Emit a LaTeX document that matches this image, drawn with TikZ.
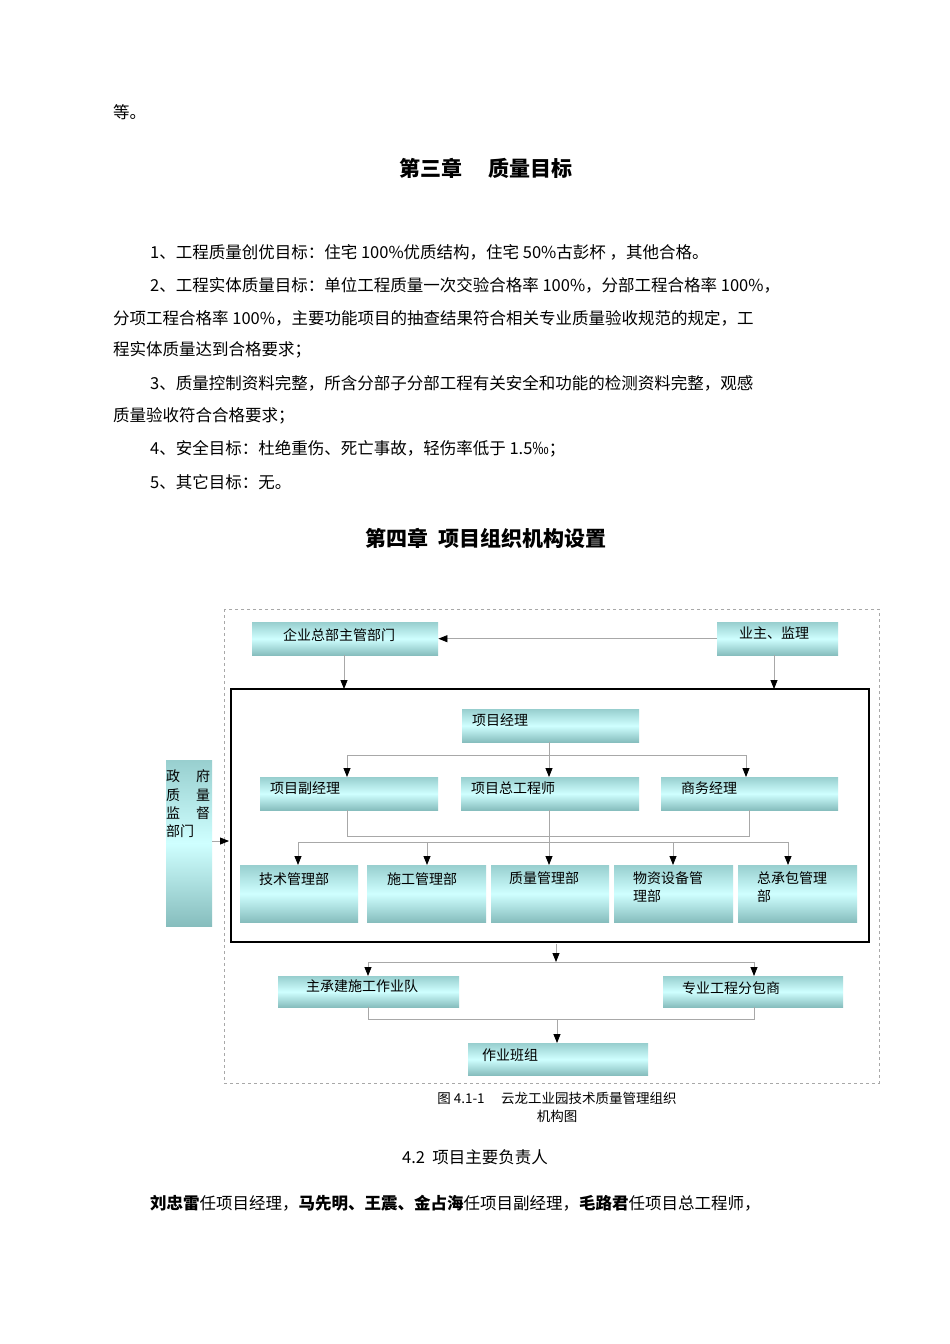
\documentclass[tikz,border=0pt]{standalone}
\usepackage{fontspec}
\setmainfont{Noto Sans CJK SC}
\usetikzlibrary{arrows.meta,calc}
\definecolor{tA}{HTML}{98CFCF}
\definecolor{tB}{HTML}{CFFFFF}
\definecolor{tC}{HTML}{86BDBD}
\definecolor{ln}{HTML}{A8A8A8}
\tikzset{
 box/.style={draw=none,top color=tA,bottom color=tC,middle color=tB,anchor=north west,inner sep=0pt},
 lbl/.style={anchor=west,inner sep=0pt,font=\fontsize{14}{16}\selectfont},
 body/.style={anchor=west,inner sep=0pt,font=\fontsize{16.5}{18}\selectfont},
 head/.style={inner sep=0pt,font=\fontsize{21}{24}\selectfont\bfseries},
 con/.style={draw=ln,line width=0.8pt},
 arr/.style={con,-{Triangle[black,length=9pt,width=7pt]}},
}
\begin{document}
\begin{tikzpicture}[x=1pt,y=-1pt]
\useasboundingbox (0,0) rectangle (950,1344);
\fill[white] (0,0) rectangle (950,1344);
\node[body] (t0) at (113,112) {等。};
\node[head] (h3) at (486,168) {第三章\quad\ 质量目标};
\node[body] (t1) at (150,252) {1、工程质量创优目标：住宅 100\%优质结构，住宅 50\%古彭杯 ，其他合格。};
\node[body] (t2) at (150,285) {2、工程实体质量目标：单位工程质量一次交验合格率 100\%，分部工程合格率 100\%，};
\node[body] (t3) at (113,318) {分项工程合格率 100\%，主要功能项目的抽查结果符合相关专业质量验收规范的规定，工};
\node[body] (t4) at (113,350) {程实体质量达到合格要求；};
\node[body] (t5) at (150,383) {3、质量控制资料完整，所含分部子分部工程有关安全和功能的检测资料完整，观感};
\node[body] (t6) at (113,416) {质量验收符合合格要求；};
\node[body] (t7) at (150,449) {4、安全目标：杜绝重伤、死亡事故，轻伤率低于 1.5‰；};
\node[body] (t8) at (150,482) {5、其它目标：无。};
\node[head] (h4) at (486,538) {第四章\ \ 项目组织机构设置};
\draw[ln,dashed,line width=0.8pt] (224,609) rectangle (879,1083);
\draw[black,line width=2.6pt] (231,689) rectangle (869,942);
\node[box,minimum width=186pt,minimum height=33pt] (qy) at (252,622) {};
\node[lbl] at (283,635) {企业总部主管部门};
\node[box,minimum width=121pt,minimum height=33pt] (yz) at (717,622) {};
\node[lbl] at (739,633) {业主、监理};
\node[box,minimum width=177pt,minimum height=33pt] (pm) at (462,709) {};
\node[lbl] at (472,720) {项目经理};
\node[box,minimum width=178pt,minimum height=33pt] (vp) at (260,777) {};
\node[lbl] at (270,788) {项目副经理};
\node[box,minimum width=178pt,minimum height=33pt] (ce) at (461,777) {};
\node[lbl] at (471,788) {项目总工程师};
\node[box,minimum width=177pt,minimum height=33pt] (bm) at (661,777) {};
\node[lbl] at (681,788) {商务经理};
\node[box,minimum width=118pt,minimum height=57pt] (d1) at (240,865) {};
\node[lbl] at (259,879) {技术管理部};
\node[box,minimum width=119pt,minimum height=57pt] (d2) at (367,865) {};
\node[lbl] at (387,879) {施工管理部};
\node[box,minimum width=118pt,minimum height=57pt] (d3) at (491,865) {};
\node[lbl] at (509,878) {质量管理部};
\node[box,minimum width=119pt,minimum height=57pt] (d4) at (614,865) {};
\node[lbl] at (633,878) {物资设备管};
\node[lbl] at (633,896) {理部};
\node[box,minimum width=119pt,minimum height=57pt] (d5) at (738,865) {};
\node[lbl] at (757,878) {总承包管理};
\node[lbl] at (757,896) {部};
\node[box,minimum width=46pt,minimum height=166pt] (gv) at (166,760) {};
\node[lbl] at (166,776) {政\hspace{16pt}府};
\node[lbl] at (166,795) {质\hspace{16pt}量};
\node[lbl] at (166,813) {监\hspace{16pt}督};
\node[lbl] at (166,831) {部门};
\node[box,minimum width=181pt,minimum height=31pt] (m1) at (278,976) {};
\node[lbl] at (306,986) {主承建施工作业队};
\node[box,minimum width=180pt,minimum height=31pt] (m2) at (663,976) {};
\node[lbl] at (682,988) {专业工程分包商};
\node[box,minimum width=180pt,minimum height=32pt] (wk) at (468,1043) {};
\node[lbl] at (482,1055) {作业班组};
\draw[arr] (yz.west) -- (qy.east);
\draw[arr] (344,655) -- (344,689);
\draw[arr] (774,655) -- (774,689);
\draw[con] (549,742) -- (549,755);
\draw[con] (347,755) -- (746,755);
\draw[arr] (347,755) -- (347,777);
\draw[arr] (549,755) -- (549,777);
\draw[arr] (746,755) -- (746,777);
\draw[con] (347,810) -- (347,836) -- (749,836) -- (749,810);
\draw[con] (298,842) -- (788,842);
\draw[arr] (298,842) -- (298,865);
\draw[arr] (427,842) -- (427,865);
\draw[arr] (549,810) -- (549,865);
\draw[arr] (673,842) -- (673,865);
\draw[arr] (788,842) -- (788,865);
\draw[arr] (212,841) -- (229,841);
\draw[arr] (556,944) -- (556,962);
\draw[con] (368,962) -- (754,962);
\draw[arr] (368,962) -- (368,976);
\draw[arr] (754,962) -- (754,976);
\draw[con] (368,1007) -- (368,1019) -- (754,1019) -- (754,1007);
\draw[arr] (557,1019) -- (557,1043);
\node[inner sep=0pt,font=\fontsize{13.5}{15}\selectfont] (cap1) at (557,1098) {图 4.1-1\quad\ 云龙工业园技术质量管理组织};
\node[inner sep=0pt,font=\fontsize{13.5}{15}\selectfont] (cap2) at (557,1116) {机构图};
\node[inner sep=0pt,font=\fontsize{16.5}{18}\selectfont] (s42) at (475,1157) {4.2\ \ 项目主要负责人};
\node[body] (t9) at (150,1203) {\textbf{刘忠雷}任项目经理，\textbf{马先明、王震、金占海}任项目副经理，\textbf{毛路君}任项目总工程师，};
\end{tikzpicture}
\end{document}
